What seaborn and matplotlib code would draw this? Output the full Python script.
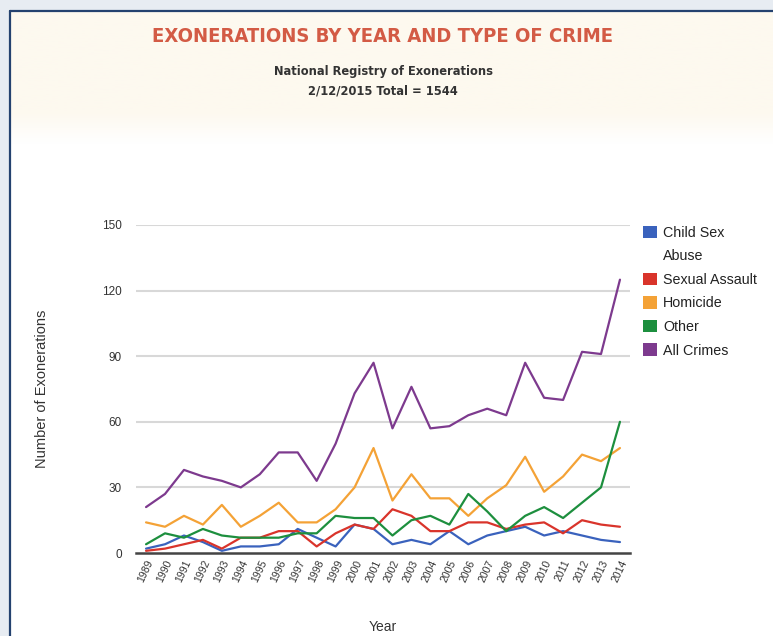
import numpy as np
import pandas as pd
import matplotlib
matplotlib.use("Agg")
import matplotlib.pyplot as plt
import seaborn as sns
from matplotlib.patches import Patch

years = list(range(1989, 2015))
child_sex_abuse = [2, 4, 8, 5, 1, 3, 3, 4, 11, 7, 3, 13, 11, 4, 6, 4, 10, 4, 8, 10, 12, 8, 10, 8, 6, 5]
sexual_assault = [1, 2, 4, 6, 2, 7, 7, 10, 10, 3, 9, 13, 11, 20, 17, 10, 10, 14, 14, 11, 13, 14, 9, 15, 13, 12]
homicide = [14, 12, 17, 13, 22, 12, 17, 23, 14, 14, 20, 30, 48, 24, 36, 25, 25, 17, 25, 31, 44, 28, 35, 45, 42, 48]
other = [4, 9, 7, 11, 8, 7, 7, 7, 9, 9, 17, 16, 16, 8, 15, 17, 13, 27, 19, 10, 17, 21, 16, 23, 30, 60]
all_crimes = [21, 27, 38, 35, 33, 30, 36, 46, 46, 33, 50, 73, 87, 57, 76, 57, 58, 63, 66, 63, 87, 71, 70, 92, 91, 125]

series_names = ["Child Sex Abuse", "Sexual Assault", "Homicide", "Other", "All Crimes"]
colors = ["#3a62bd", "#d9342b", "#f4a236", "#1d8f3e", "#7d3a8e"]
y_ticks = [0, 30, 60, 90, 120, 150]

df = pd.concat([
    pd.DataFrame({"Year": years, "Count": vals, "Type": name})
    for name, vals in zip(series_names, [child_sex_abuse, sexual_assault, homicide, other, all_crimes])
])

sns.set_theme(style="white")
plt.rcParams["font.family"] = ["Liberation Sans", "DejaVu Sans"]

W, H = 773, 636
fig = plt.figure(figsize=(W / 100, H / 100), dpi=100)
fig.patch.set_facecolor("#e7ecf2")

# inner panel with cream header gradient
bg = fig.add_axes([11 / W, 0, 1 - 11 / W, 1 - 12 / H], zorder=-10)
n = 400
grad = np.ones((n, 1, 3))
top = np.array([253, 249, 239]) / 255.0
white = np.array([1.0, 1.0, 1.0])
for i in range(n):
    f = i / (n - 1.0)
    if f < 0.16:
        c = top
    elif f < 0.21:
        t = (f - 0.16) / 0.05
        c = top * (1 - t) + white * t
    else:
        c = white
    grad[i, 0, :] = c
bg.imshow(grad, aspect="auto", extent=[0, 1, 0, 1], origin="upper")
bg.set_xlim(0, 1)
bg.set_ylim(0, 1)
bg.axis("off")
fig.add_artist(plt.Line2D([10 / W, 1], [1 - 11 / H, 1 - 11 / H], color="#24426f", lw=1.6, transform=fig.transFigure))
fig.add_artist(plt.Line2D([10 / W, 10 / W], [0, 1 - 11 / H], color="#24426f", lw=1.6, transform=fig.transFigure))

left, right, topp, bottom = 136, 630, 225, 553
ax = fig.add_axes([left / W, 1 - bottom / H, (right - left) / W, (bottom - topp) / H])
ax.set_facecolor("none")

sns.lineplot(data=df, x="Year", y="Count", hue="Type", hue_order=series_names,
             palette=colors, linewidth=1.6, legend=False, ax=ax)

ax.set_xlim(1988.47, 2014.53)
ax.set_ylim(0, 150)
ax.set_yticks(y_ticks)
ax.set_yticklabels([str(v) for v in y_ticks], fontsize=8.5, color="#333333")
ax.set_xticks(years)
ax.set_xticklabels([str(y) for y in years], rotation=65, ha="right", va="top",
                   rotation_mode="anchor", fontsize=7.5, color="#333333")
ax.tick_params(axis="y", length=0, pad=10)
ax.tick_params(axis="x", length=0, pad=4)
for y in y_ticks[1:]:
    ax.axhline(y, color="#d8d8d8", lw=1.5, zorder=0)
for s in ["top", "right", "left"]:
    ax.spines[s].set_visible(False)
ax.spines["bottom"].set_color("#444444")
ax.spines["bottom"].set_linewidth(1.8)
ax.spines["bottom"].set_zorder(5)
ax.grid(False)

ax.set_xlabel("Year", fontsize=10, color="#333333", labelpad=26)
ax.set_ylabel("Number of Exonerations", fontsize=10.5, color="#333333", labelpad=38)

# legend
handles = [Patch(facecolor=colors[0], edgecolor="none"),
           Patch(facecolor="none", edgecolor="none"),
           Patch(facecolor=colors[1], edgecolor="none"),
           Patch(facecolor=colors[2], edgecolor="none"),
           Patch(facecolor=colors[3], edgecolor="none"),
           Patch(facecolor=colors[4], edgecolor="none")]
labels = ["Child Sex", "Abuse", "Sexual Assault", "Homicide", "Other", "All Crimes"]
leg = ax.legend(handles, labels, loc="upper left", bbox_to_anchor=(1.015, 1.015),
                frameon=False, fontsize=10.3, handlelength=0.95, handleheight=0.95,
                handletextpad=0.45, labelspacing=0.66, borderaxespad=0)
for t in leg.get_texts():
    t.set_color("#222222")

# titles
fig.text(383 / W, 1 - 37 / H, "EXONERATIONS BY YEAR AND TYPE OF CRIME",
         ha="center", va="center", fontsize=14.5, fontweight="bold", color="#d35b45",
         fontstretch="condensed", family=["DejaVu Sans"])
fig.text(383 / W, 1 - 72 / H, "National Registry of Exonerations",
         ha="center", va="center", fontsize=8.3, fontweight="bold", color="#333333",
         family=["DejaVu Sans"])
fig.text(383 / W, 1 - 91 / H, "2/12/2015 Total = 1544",
         ha="center", va="center", fontsize=8.3, fontweight="bold", color="#333333",
         family=["DejaVu Sans"])

fig.savefig("out.png", dpi=100, facecolor=fig.get_facecolor())
